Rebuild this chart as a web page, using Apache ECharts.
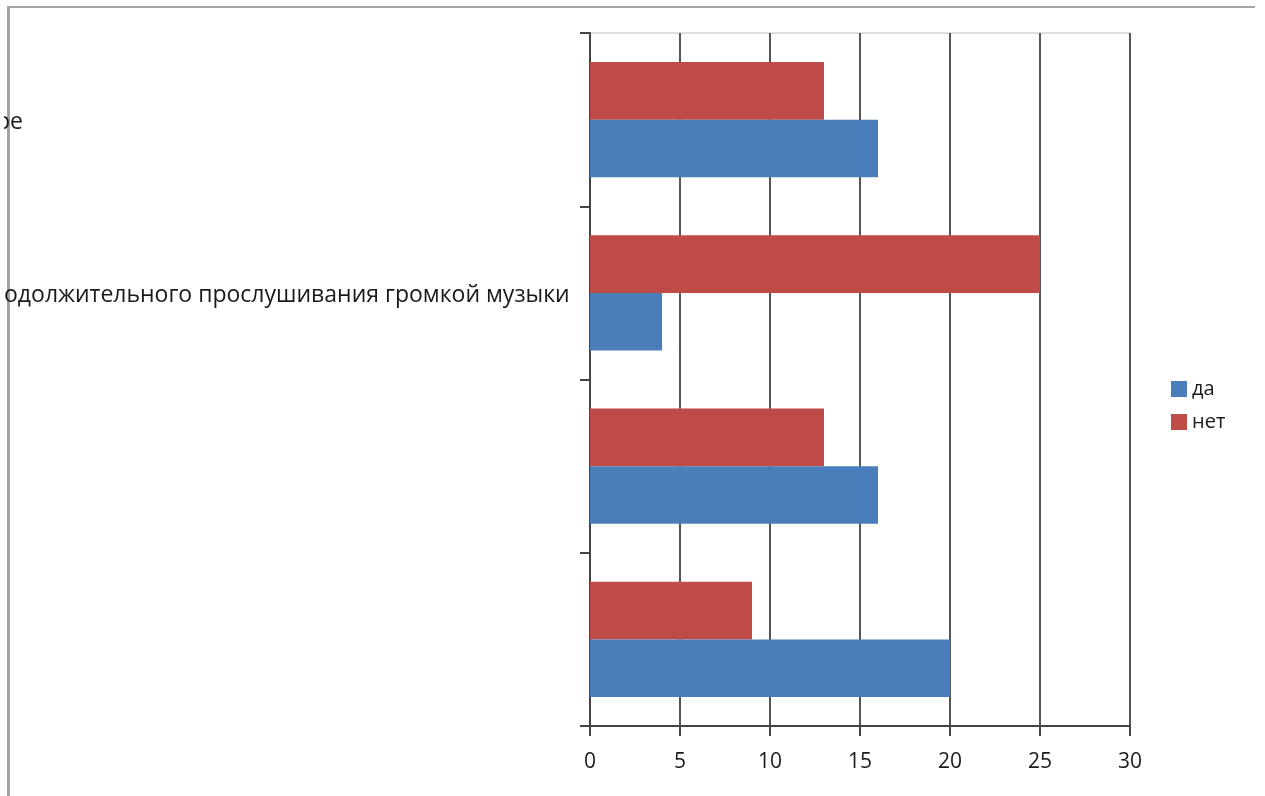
<!DOCTYPE html>
<html>
<head>
<meta charset="utf-8">
<script src="https://cdn.jsdelivr.net/npm/echarts@6/dist/echarts.min.js"></script>
<style>
  html, body { margin: 0; padding: 0; background: #ffffff; width: 1265px; height: 796px; overflow: hidden; }
  #frameTop { position: absolute; left: 8px; top: 6px; width: 1247px; height: 2px; background: #a3a3a3; }
  #frameLeft { position: absolute; left: 7px; top: 6px; width: 3px; height: 790px; background: #a3a3a3; }
  #wrap { position: absolute; left: 4px; top: 0; width: 1261px; height: 796px; overflow: hidden; }
  #chart { width: 1261px; height: 796px; }
</style>
</head>
<body>
<div id="frameTop"></div>
<div id="frameLeft"></div>
<div id="wrap"><div id="chart"></div></div>
<script>
// Categories listed top to bottom, as seen in the picture (labels are cut off on the left)
const categoriesTopDown = ['ре', 'одолжительного прослушивания громкой музыки', '', ' '];
const seriesNames = ['да', 'нет'];
const daValuesTopDown = [16, 4, 16, 20];
const netValuesTopDown = [13, 25, 13, 9];
const xTicks = [0, 5, 10, 15, 20, 25, 30];

const categories = categoriesTopDown.slice().reverse();
const daValues = daValuesTopDown.slice().reverse();
const netValues = netValuesTopDown.slice().reverse();

const FONT = 'Open Sans';
const chart = echarts.init(document.getElementById('chart'), null, { renderer: 'canvas' });

chart.setOption({
  animation: false,
  backgroundColor: 'transparent',
  textStyle: { fontFamily: FONT },
  grid: {
    left: 586, right: 135, top: 33, bottom: 70,
    outerBoundsMode: 'none',
    containLabel: false,
    show: true, borderColor: '#bdbdbd', borderWidth: 1, backgroundColor: 'transparent'
  },
  legend: {
    orient: 'vertical',
    left: 1167, top: 379,
    padding: 0,
    icon: 'rect',
    itemWidth: 16, itemHeight: 16, itemGap: 13,
    textStyle: { fontFamily: FONT, fontSize: 20, color: '#1a1a1a' },
    data: seriesNames
  },
  xAxis: {
    type: 'value',
    min: xTicks[0], max: xTicks[xTicks.length - 1], interval: 5,
    axisLine: { show: true, lineStyle: { color: '#444', width: 2 } },
    axisTick: { show: true, length: 10, lineStyle: { color: '#444', width: 2 } },
    splitLine: { show: true, lineStyle: { color: '#555', width: 2 } },
    axisLabel: { margin: 26, fontFamily: FONT, fontSize: 21, color: '#1a1a1a' }
  },
  yAxis: {
    type: 'category',
    data: categories,
    axisLine: { show: true, lineStyle: { color: '#444', width: 2 } },
    axisTick: { show: true, length: 10, lineStyle: { color: '#444', width: 2 } },
    splitLine: { show: false },
    axisLabel: {
      interval: 0,
      align: 'left',
      margin: 594,
      fontFamily: FONT, fontSize: 23, color: '#1a1a1a',
      formatter: function (v) {
        if (!v.trim()) return v;
        return v === categoriesTopDown[1] ? '{s|' + v + '}' : '{r|' + v + '}';
      },
      rich: {
        r: { padding: [6, 0, 0, 0], fontFamily: FONT, fontSize: 23, color: '#1a1a1a' },
        s: { padding: [6, 0, 0, 8], fontFamily: FONT, fontSize: 23, color: '#1a1a1a' }
      }
    }
  },
  series: [
    {
      name: seriesNames[1], type: 'bar', data: netValues,
      itemStyle: { color: '#be4b48' },
      barGap: '0%', barCategoryGap: '33.5%'
    },
    {
      name: seriesNames[0], type: 'bar', data: daValues,
      itemStyle: { color: '#4a7ebb' },
      barGap: '0%', barCategoryGap: '33.5%'
    }
  ]
});
</script>
</body>
</html>
